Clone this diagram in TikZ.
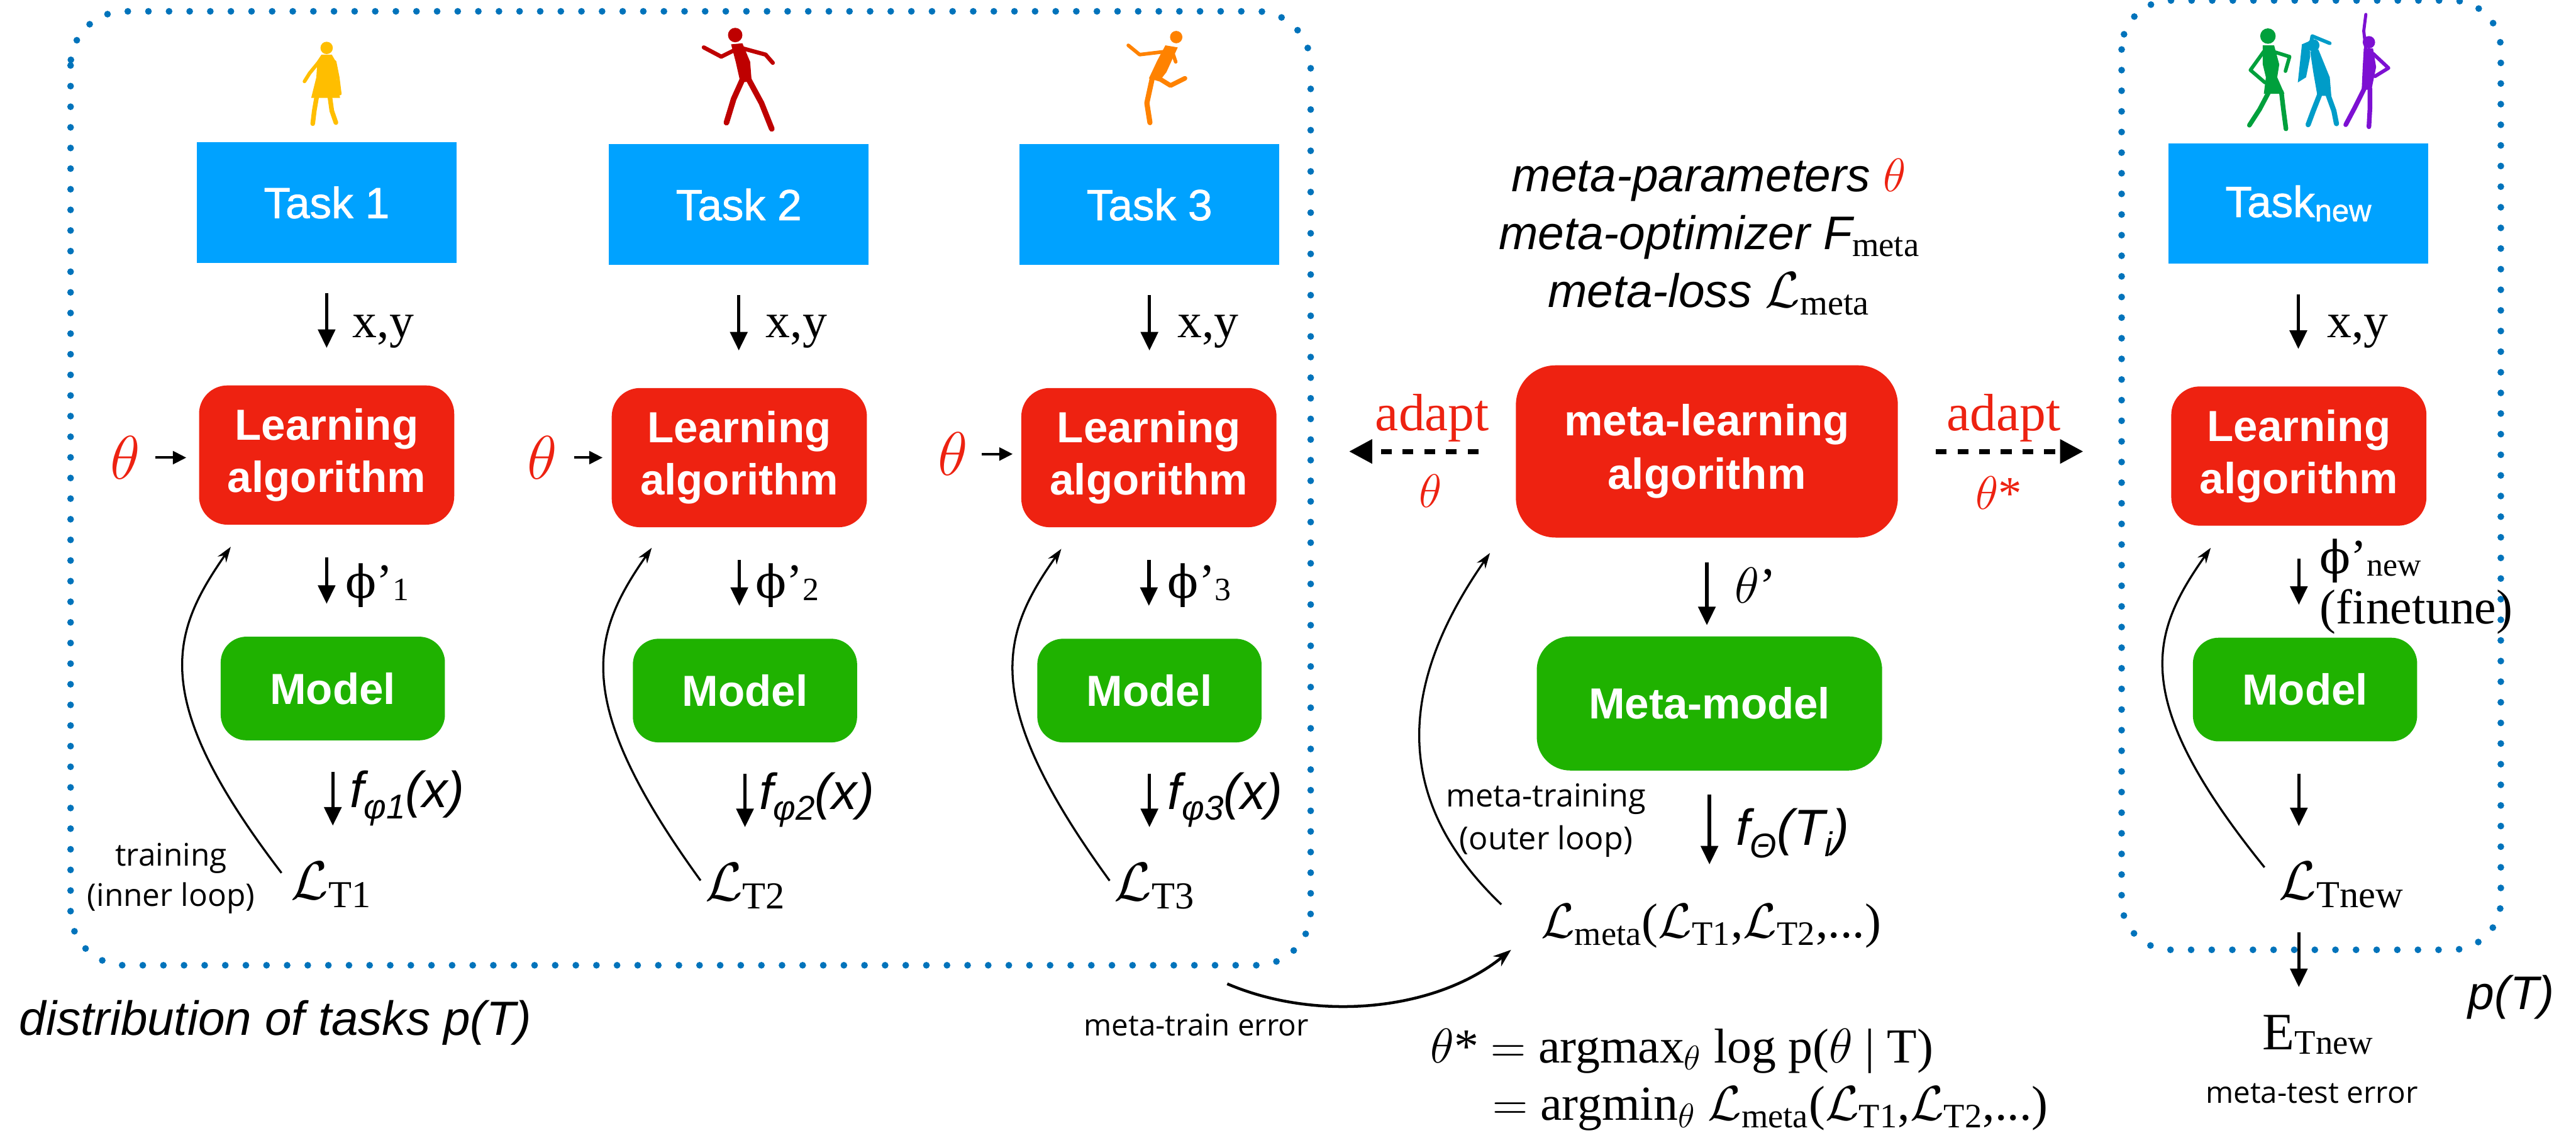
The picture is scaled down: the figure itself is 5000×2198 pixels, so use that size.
\RequirePackage{fix-cm}
\documentclass[tikz,border=0pt]{standalone}
\usepackage{amsmath}
\usepackage{fontspec}
\setmainfont{Liberation Serif}
\newfontfamily\sansf{Liberation Sans}
\newfontfamily\taskf[FakeBold=1.2]{Liberation Sans}
\newfontfamily\humf{Open Sans}
\newfontfamily\phif{DejaVu Serif}
\usetikzlibrary{arrows.meta}

\definecolor{taskblue}{RGB}{0,162,255}
\definecolor{algred}{RGB}{238,34,17}
\definecolor{modelgreen}{RGB}{31,178,0}
\definecolor{dotblue}{RGB}{0,115,187}
\definecolor{thred}{RGB}{237,34,17}
\definecolor{girlc}{RGB}{255,190,0}
\definecolor{runnerc}{RGB}{190,0,0}
\definecolor{kickc}{RGB}{255,130,0}
\definecolor{dgreen}{RGB}{0,160,60}
\definecolor{dteal}{RGB}{0,156,200}
\definecolor{dpurple}{RGB}{125,16,210}

\newcommand\fsz[1]{\fontsize{#1}{#1}\selectfont}
\newcommand\Lsub[1]{$\mathcal{L}_{\text{#1}}$}
\newcommand\phip[1]{{\phif\fsz{25}ϕ}’\raisebox{-0.05em}{\fsz{18}#1}}

\tikzset{
  taskbox/.style={fill=taskblue, text=white, inner sep=0pt, minimum width=5.04cm,
    minimum height=2.34cm, font=\taskf\fsz{24}},
  algbox/.style={fill=algred, text=white, inner sep=0pt, rounded corners=0.55cm,
    minimum width=4.95cm, minimum height=2.7cm, align=center,
    font=\sansf\bfseries\fontsize{24}{28.7}\selectfont},
  modelbox/.style={fill=modelgreen, text=white, inner sep=0pt, rounded corners=0.5cm,
    minimum width=4.35cm, minimum height=2.01cm, font=\sansf\bfseries\fsz{24}},
  lab/.style={inner sep=0pt, font=\fsz{27}},
  flab/.style={inner sep=0pt, font=\sansf\itshape\fsz{28}},
  loss/.style={inner sep=0pt, font=\fsz{30}},
  bigth/.style={inner sep=0pt, text=thred, font=\fsz{34}},
  redlab/.style={inner sep=0pt, text=thred, font=\fsz{29}},
  hum/.style={inner sep=0pt, font=\humf\fsz{16.5}},
  arr/.style={-{Triangle[length=0.36cm,width=0.33cm]}, line width=0.065cm},
  tharr/.style={-{Triangle[length=0.26cm,width=0.25cm]}, line width=0.05cm},
  dasharr/.style={-{Triangle[length=0.45cm,width=0.45cm]}, line width=0.1cm,
    dash pattern=on 0.21cm off 0.21cm},
  loopar/.style={-{Stealth[length=0.3cm,width=0.2cm]}, line width=0.04cm},
  dotbox/.style={draw=dotblue, line width=0.13cm, line cap=round,
    dash pattern=on 0pt off 0.4cm},
  limb/.style={line cap=round, line join=round, line width=#1},
}

\begin{document}
\begin{tikzpicture}[x=0.01cm, y=-0.01cm]
\useasboundingbox (0,0) rectangle (5000,2198);

% dotted frames: training task distribution and the new task
\draw[dotbox, rounded corners=1.05cm] (137,22) rectangle (2544,1873);
\draw[dotbox, rounded corners=0.95cm] (4118,1) rectangle (4854,1843);

% ---- silhouettes ----
\begin{scope}[color=girlc]
  \fill (634,93) circle[radius=0.12cm];
  \fill (624,106) -- (644,106) -- (651,118) -- (653,150) -- (660,190)
        -- (604,190) -- (614,150) -- (616,118) -- cycle;
  \draw[limb=0.07cm] (619,120) -- (601,142) -- (591,158);
  \draw[limb=0.06cm] (650,120) -- (656,150) -- (660,182);
  \draw[limb=0.09cm] (615,186) -- (610,215) -- (607,240);
  \draw[limb=0.09cm] (640,186) -- (644,215) -- (652,238);
\end{scope}
\begin{scope}[color=runnerc]
  \fill (1427,68) circle[radius=0.14cm];
  \fill (1419,86) -- (1441,84) -- (1456,120) -- (1459,158) -- (1437,160)
        -- (1428,120) -- cycle;
  \draw[limb=0.08cm] (1424,98) -- (1400,110) -- (1366,92);
  \draw[limb=0.08cm] (1442,94) -- (1486,106) -- (1500,122);
  \draw[limb=0.11cm] (1442,152) -- (1424,192) -- (1410,238);
  \draw[limb=0.11cm] (1452,152) -- (1478,200) -- (1498,250);
\end{scope}
\begin{scope}[color=kickc]
  \fill (2283,72) circle[radius=0.12cm];
  \fill (2262,88) -- (2286,92) -- (2264,140) -- (2250,158) -- (2230,152)
        -- (2246,118) -- cycle;
  \draw[limb=0.07cm] (2262,100) -- (2212,106) -- (2190,88);
  \draw[limb=0.07cm] (2276,102) -- (2282,120);
  \draw[limb=0.1cm] (2236,154) -- (2226,200) -- (2232,238);
  \draw[limb=0.09cm] (2246,150) -- (2272,166) -- (2300,152);
\end{scope}
\begin{scope}[color=dgreen]
  \fill (4402,70) circle[radius=0.15cm];
  \fill (4392,88) -- (4414,88) -- (4424,125) -- (4420,150) -- (4434,182)
        -- (4394,182) -- (4398,150) -- (4392,125) -- cycle;
  \draw[limb=0.07cm] (4394,100) -- (4368,136) -- (4396,160);
  \draw[limb=0.07cm] (4412,100) -- (4444,110) -- (4436,138);
  \draw[limb=0.09cm] (4404,178) -- (4386,212) -- (4366,243);
  \draw[limb=0.09cm] (4428,178) -- (4432,212) -- (4437,250);
\end{scope}
\begin{scope}[color=dteal]
  \fill (4490,88) circle[radius=0.12cm];
  \fill (4482,80) -- (4468,86) -- (4460,160) -- (4476,150) -- (4484,110) -- cycle;
  \fill (4484,100) -- (4500,96) -- (4522,150) -- (4525,186) -- (4498,186)
        -- (4490,140) -- cycle;
  \draw[limb=0.07cm] (4484,92) -- (4488,70) -- (4522,84);
  \draw[limb=0.1cm] (4503,182) -- (4490,215) -- (4480,242);
  \draw[limb=0.1cm] (4518,182) -- (4530,215) -- (4535,240);
\end{scope}
\begin{scope}[color=dpurple]
  \fill (4598,82) circle[radius=0.12cm];
  \fill (4588,94) -- (4606,94) -- (4612,130) -- (4603,174) -- (4584,174)
        -- (4586,130) -- cycle;
  \draw[limb=0.06cm] (4592,96) -- (4588,60) -- (4592,28);
  \draw[limb=0.07cm] (4606,104) -- (4636,132) -- (4610,148);
  \draw[limb=0.09cm] (4589,172) -- (4570,210) -- (4553,242);
  \draw[limb=0.09cm] (4600,172) -- (4600,210) -- (4598,246);
\end{scope}

% ---- task boxes ----
\node[taskbox] (task1) at (634,393) {Task 1};
\node[taskbox] (task2) at (1434,397) {Task 2};
\node[taskbox] (task3) at (2231,397) {Task 3};
\node[taskbox] (tasknew) at (4461,395) {Task\raisebox{-0.1em}{\fsz{17}new}};

% ---- learning algorithms ----
\node[algbox] (la1) at (634,883) {Learning\\algorithm};
\node[algbox] (la2) at (1435,888) {Learning\\algorithm};
\node[algbox] (la3) at (2230,888) {Learning\\algorithm};
\node[algbox] (lanew) at (4462,885) {Learning\\algorithm};
\node[algbox, minimum width=7.41cm, minimum height=3.34cm, rounded corners=0.77cm,
      font=\sansf\bfseries\fontsize{24}{29.6}\selectfont] (metalearn) at (3313,876)
      {meta-learning\\algorithm};

% ---- models ----
\node[modelbox] (model1) at (646,1336) {Model};
\node[modelbox] (model2) at (1446,1340) {Model};
\node[modelbox] (model3) at (2231,1340) {Model};
\node[modelbox] (modelnew) at (4474,1338) {Model};
\node[modelbox, minimum width=6.7cm, minimum height=2.6cm, rounded corners=0.65cm]
      (metamodel) at (3318,1365) {Meta-model};

% ---- meta-parameters theta entering each learner ----
\node[bigth] (th1) at (243,888) {$\theta$};
\node[bigth] (th2) at (1053,888) {$\theta$};
\node[bigth] (th3) at (1849,881) {$\theta$};
\draw[tharr, shorten <=0.29cm, shorten >=0.24cm] (th1) -- (th1 -| la1.west);
\draw[tharr, shorten <=0.32cm, shorten >=0.17cm] (th2) -- (th2 -| la2.west);
\draw[tharr, shorten <=0.27cm, shorten >=0.16cm] (th3) -- (th3 -| la3.west);

% ---- losses ----
\node[loss, anchor=base west] (lt1) at (564,1745) {\Lsub{T1}};
\node[loss, anchor=base west] (lt2) at (1368,1748) {\Lsub{T2}};
\node[loss, anchor=base west] (lt3) at (2162,1748) {\Lsub{T3}};
\node[loss, anchor=base west] (ltnew) at (4423,1745) {\Lsub{Tnew}};
\node[loss, anchor=base west, font=\fsz{27}] (lmeta) at (2990,1820)
      {\Lsub{meta}(\Lsub{T1},\Lsub{T2},...)};
\node[inner sep=0pt, anchor=base west] (etn) at (4391,2037)
      {\fsz{29}E\raisebox{-0.08em}{\fsz{19}Tnew}};

% ---- arrow labels ----
\node[lab, anchor=base west] (xy1) at (684,655) {x,y};
\node[lab, anchor=base west] (xy2) at (1486,655) {x,y};
\node[lab, anchor=base west] (xy3) at (2285,655) {x,y};
\node[lab, anchor=base west] (xy4) at (4516,655) {x,y};
\node[lab, anchor=base west] (ph1) at (670,1160) {\phip{1}};
\node[lab, anchor=base west] (ph2) at (1466,1160) {\phip{2}};
\node[lab, anchor=base west] (ph3) at (2266,1160) {\phip{3}};
\node[lab, anchor=base west] (phn) at (4502,1113) {\phip{new}};
\node[lab, anchor=base west] (fine) at (4502,1210) {(finetune)};
\node[flab, anchor=base west] (f1) at (678,1567) {f\raisebox{-0.22em}{\fsz{19}φ1}(x)};
\node[flab, anchor=base west] (f2) at (1473,1570) {f\raisebox{-0.22em}{\fsz{19}φ2}(x)};
\node[flab, anchor=base west] (f3) at (2266,1570) {f\raisebox{-0.22em}{\fsz{19}φ3}(x)};
\node[inner sep=0pt, anchor=base west, font=\fsz{28}] (thp) at (3366,1170) {$\theta$’};
\node[flab, anchor=base west] (fT) at (3369,1640)
      {f\raisebox{-0.25em}{\fsz{19}Θ}(T\raisebox{-0.22em}{\fsz{19}i})};

% ---- down arrows ----
\foreach \i in {1,2,3,new}{
  \draw[arr, shorten <=0.58cm, shorten >=0.72cm] (task\i.south) -- (task\i.south |- la\i.north);
  \draw[arr, shorten <=0.63cm, shorten >=0.63cm] (la\i.south) -- (la\i.south |- model\i.north);
}
\draw[arr, shorten <=0.6cm, shorten >=0.7cm] (model1.south) -- (model1.south |- lt1.north);
\draw[arr, shorten <=0.6cm, shorten >=0.7cm] (model2.south) -- (model2.south |- lt2.north);
\draw[arr, shorten <=0.6cm, shorten >=0.7cm] (model3.south) -- (model3.south |- lt3.north);
\draw[arr, shorten <=0.62cm, shorten >=0.69cm] (modelnew.south -| lanew.south) -- (ltnew.north -| lanew.south);
\draw[arr, shorten <=0.47cm, shorten >=0.54cm] (ltnew.south -| lanew.south) -- (etn.north -| lanew.south);
\draw[arr, shorten <=0.47cm, shorten >=0.21cm] (metalearn.south) -- (metalearn.south |- metamodel.north);
\draw[arr, shorten <=0.46cm, shorten >=0.76cm] (metamodel.south) -- (metamodel.south |- lmeta.north);

% ---- inner loops ----
\coordinate (in1) at (448,1061);
\coordinate (in2) at (1265,1063);
\coordinate (in3) at (2060,1065);
\coordinate (in4) at (4291,1063);
\draw[loopar, shorten <=0.29cm] (lt1.west) .. controls (288,1356) and (330,1230) .. (in1);
\draw[loopar, shorten <=0.14cm] (lt2.west) .. controls (1107,1360) and (1147,1232) .. (in2);
\draw[loopar, shorten <=0.14cm] (lt3.west) .. controls (1900,1360) and (1942,1232) .. (in3);
\draw[loopar, shorten <=0.44cm] (ltnew.west) .. controls (4131,1356) and (4173,1230) .. (in4);
\node[hum, anchor=base, font=\humf\fsz{17.2}] (tr1) at (332,1680) {training};
\node[hum, anchor=base, font=\humf\fsz{17.2}] (tr2) at (332,1758) {(inner loop)};

% ---- outer loop ----
\coordinate (mtS) at (2914,1755);
\coordinate (mtE) at (2892,1073);
\draw[loopar] (mtS) .. controls (2694,1545) and (2720,1320) .. (mtE);
\node[hum, anchor=base, font=\humf\fsz{17.5}] (mtr1) at (3001,1566) {meta-training};
\node[hum, anchor=base, font=\humf\fsz{17.5}] (mtr2) at (3001,1648) {(outer loop)};

% ---- meta-train error ----
\node[hum, anchor=base] (mte) at (2322,2010) {meta-train error};
\coordinate (meS) at (2382,1909);
\coordinate (meE) at (2933,1843);
\draw[-{Stealth[length=0.35cm,width=0.25cm]}, line width=0.055cm]
      (meS) .. controls (2560,1985) and (2790,1960) .. (meE);

% ---- adapt arrows ----
\draw[dasharr, shorten <=0.72cm, shorten >=1.4cm] (metalearn.west) -- (metalearn.west -| la3.east);
\draw[dasharr, shorten <=0.73cm, shorten >=1.7cm] (metalearn.east) -- (metalearn.east -| lanew.west);
\node[redlab, anchor=base] (ad1) at (2780,836) {adapt};
\node[redlab, anchor=base, font=\fsz{26}] (ad1t) at (2776,985) {$\theta$};
\node[redlab, anchor=base] (ad2) at (3889,836) {adapt};
\node[redlab, anchor=base, font=\fsz{26}] (ad2t) at (3880,988) {$\theta$*};

% ---- meta description ----
\node[inner sep=0pt, anchor=base, font=\sansf\itshape\fsz{26}] (mp) at (3317,372)
      {meta-parameters \textcolor{thred}{$\theta$}};
\node[inner sep=0pt, anchor=base, font=\sansf\itshape\fsz{26}] (mo) at (3317,484)
      {meta-optimizer F\raisebox{-0.15em}{\normalfont\fsz{19}meta}};
\node[inner sep=0pt, anchor=base, font=\sansf\itshape\fsz{26}] (ml) at (3317,596)
      {meta-loss {\normalfont\fsz{28}\Lsub{meta}}};

% ---- objective ----
\node[inner sep=0pt, anchor=base west, font=\fsz{27}] (obj1) at (2776,2062)
      {$\theta$* $=$ argmax$_{\theta}$ log p($\theta$ | T)};
\node[inner sep=0pt, anchor=base west, font=\fsz{27}] (obj2) at (2897,2174)
      {$=$ argmin$_{\theta}$ \Lsub{meta}(\Lsub{T1},\Lsub{T2},...)};

% ---- captions ----
\node[inner sep=0pt, anchor=base west, font=\sansf\itshape\fsz{26.5}] (dist) at (37,2009)
      {distribution of tasks p(T)};
\node[inner sep=0pt, anchor=base west, font=\sansf\itshape\fsz{26}] (pt) at (4790,1958) {p(T)};
\node[hum, anchor=base] (mtest) at (4487,2140) {meta-test error};
\end{tikzpicture}
\end{document}
